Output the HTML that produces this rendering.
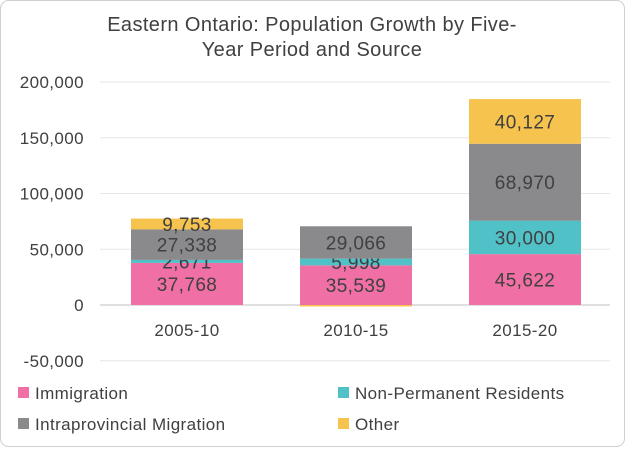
<!DOCTYPE html>
<html><head><meta charset="utf-8"><style>
body{margin:0;background:#fff;}
#c{position:relative;width:625px;height:447px;font-family:"Liberation Sans",sans-serif;}
text{letter-spacing:0.4px;}
</style></head><body>
<div id="c">
<svg id="s" width="625" height="447">
<rect x="0.5" y="0.5" width="624" height="446" rx="8" fill="#fff" stroke="#d0d0d0"/>
<text x="312" y="31" text-anchor="middle" font-size="20" fill="#404040">Eastern Ontario: Population Growth by Five-</text>
<text x="312" y="56" text-anchor="middle" font-size="20" fill="#404040">Year Period and Source</text>
</svg></div>
<script>
const categories=["2005-10","2010-15","2015-20"];
const immigration=[37768,35539,45622];
const nonPermanent=[2671,5998,30000];
const intraprovincial=[27338,29066,68970];
const other=[9753,-800,40127];
const ticks=[-50000,0,50000,100000,150000,200000];
const seriesNames=["Immigration","Non-Permanent Residents","Intraprovincial Migration","Other"];
const colors=["#f06fa4","#4fc1c7","#8a898c","#f7c34f"];
const svg=document.getElementById('s');
const NS="http://www.w3.org/2000/svg";
function y(v){return 305-v*(223/200000);}
function x(i){return 187+i*169;}
const bw=112;
function mk(t,a){const e=document.createElementNS(NS,t);for(const k in a)e.setAttribute(k,a[k]);svg.appendChild(e);return e;}
ticks.forEach(t=>{
 const g=mk('line',{x1:100,x2:610,y1:y(t),y2:y(t),stroke:t===0?'#bfbfbf':'#e6e6e6','stroke-width':1});
 
 
 const l=mk('text',{x:84,y:y(t)+6,'text-anchor':'end','font-size':17,fill:'#404040'});
 l.textContent=t.toLocaleString('en-US');
 
 
});
const series=[immigration,nonPermanent,intraprovincial,other];
categories.forEach((c,i)=>{
 let pos=0,neg=0;
 series.forEach((s,k)=>{
  const v=s[i];let y0,y1;
  if(v>=0){y0=pos;y1=pos+v;pos=y1;}else{y0=neg+v;y1=neg;neg=y0;}
  const r=mk('rect',{x:x(i)-bw/2,y:y(y1),width:bw,height:Math.max(1.5,y(y0)-y(y1)),fill:colors[k]});
  
  
  if(v>2000){
   const t=mk('text',{x:x(i),y:(y(y0)+y(y1))/2+7,'text-anchor':'middle','font-size':19,fill:'#404040'});
   t.textContent=v.toLocaleString('en-US');
   
   
  }
 });
 const cl=mk('text',{x:x(i),y:336,'text-anchor':'middle','font-size':17,fill:'#404040'});
 cl.textContent=c;
 
 
});
const lp=[[18,393],[338,393],[18,424],[338,424]];
seriesNames.forEach((n,k)=>{
 const r=mk('rect',{x:lp[k][0],y:lp[k][1]-6,width:11,height:11,fill:colors[k]});
 
 
 const t=mk('text',{x:lp[k][0]+17,y:lp[k][1]+6,'font-size':17,fill:'#404040'});
 t.textContent=n;
 
 
});
</script>
</body></html>
